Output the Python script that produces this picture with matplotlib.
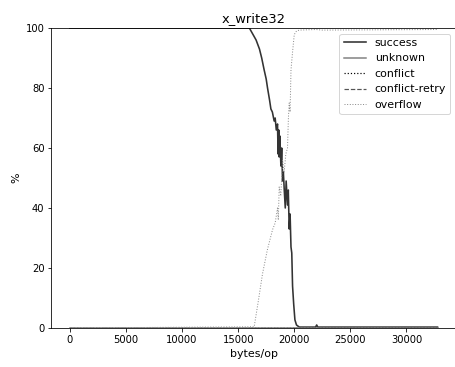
import numpy as np
import matplotlib
matplotlib.use('Agg')
import matplotlib.pyplot as plt

# (bytes/op vs %)
succ_x = [0, 16000, 16300, 16600, 16900, 17100, 17320, 17500, 17620, 17800, 17920,
          18050, 18210, 18300, 18400, 18510, 18560, 18620, 18660, 18720, 18810,
          18880, 18960, 19030, 19110, 19200, 19280, 19400, 19470, 19550, 19630,
          19710, 19780, 19850, 19950, 20060, 20200, 20450, 21900, 22000, 22100, 32768]
succ_y = [100, 100, 98, 96, 93, 90, 86, 83, 80, 76, 73,
          72, 69, 70, 66, 68, 58, 66, 57, 64, 54,
          60, 49, 52, 46, 40, 49, 41, 46, 33, 38,
          27, 25, 14, 8, 2.7, 1, 0.3, 0.3, 1, 0.3, 0.3]

ovf_x = [0, 16430, 16800, 17170, 17600, 18060, 18300, 18510, 18580, 18660, 18800,
         18960, 19100, 19250, 19400, 19480, 19550, 19630, 19710, 19850, 20000,
         20200, 20450, 21940, 22500, 32768]
ovf_y = [0, 0.4, 9, 18, 26, 32.7, 35, 40, 36, 47, 44,
         56, 52, 58, 60, 70, 75, 72, 86, 92, 97.8,
         99, 99.3, 99.5, 99.3, 99.5]

flat_x = [0, 32768]
unknown_y = [0, 0]
conflict_y = [0, 0]
retry_y = [0, 0]

fig = plt.figure(figsize=(455 / 72, 367 / 72), dpi=72)
ax = fig.add_axes([0.113, 0.1063, 0.889, 0.8174])

ax.plot(succ_x, succ_y, color='#333333', lw=1.6, label='success')
ax.plot(flat_x, unknown_y, color='#808080', lw=1.5, label='unknown')
ax.plot(flat_x, conflict_y, color='black', lw=1.2, ls=':', label='conflict')
ax.plot(flat_x, retry_y, color='#555555', lw=1.2, ls='--', label='conflict-retry')
ax.plot(ovf_x, ovf_y, color='#8c8c8c', lw=1.0, ls=':', label='overflow')

ax.set_ylim(0, 100)
ax.set_xlim(-1638, 34406)
ax.spines['right'].set_visible(False)
ax.set_title('x_write32', fontsize=13)
ax.set_xlabel('bytes/op', fontsize=11)
ax.set_ylabel('%', fontsize=11)
ax.legend(loc='upper right', fontsize=11)

fig.savefig('out.png', dpi=72)
